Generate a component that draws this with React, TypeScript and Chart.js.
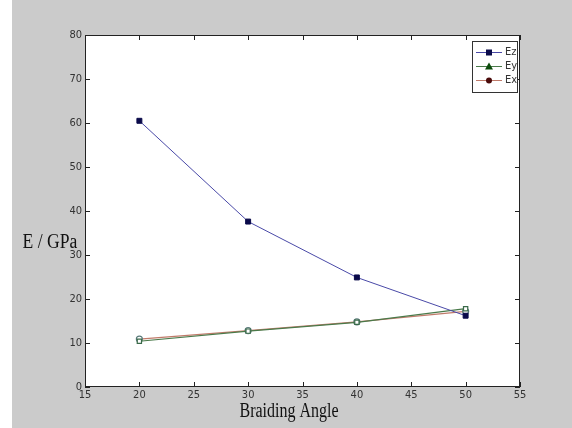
import React, { useEffect, useRef } from "react";
import { Chart, registerables } from "chart.js";

Chart.register(...registerables);

const angles = [20, 30, 40, 50];
const ezValues = [60.5, 37.6, 24.9, 16.2];
const eyValues = [10.4, 12.7, 14.7, 17.8];
const exValues = [10.9, 12.8, 14.8, 17.2];
const seriesLabels = ["Ez", "Ey", "Ex"];
const xTitle = "Braiding Angle";
const yTitle = "E / GPa";

const tickFont = "'Liberation Sans Narrow', 'DejaVu Sans Condensed', sans-serif";

const framePlugin = {
  id: "frame",
  beforeDraw(chart: any) {
    const { ctx, chartArea } = chart;
    ctx.save();
    ctx.fillStyle = "#ffffff";
    ctx.fillRect(0, 0, chart.width, chart.height);
    ctx.fillStyle = "#cbcbcb";
    ctx.fillRect(12, 0, chart.width - 12, chart.height);
    ctx.fillStyle = "#ffffff";
    ctx.fillRect(chartArea.left, chartArea.top, chartArea.right - chartArea.left, chartArea.bottom - chartArea.top);
    ctx.restore();
  },
  afterDraw(chart: any) {
    const { ctx, chartArea, scales } = chart;
    const { left, right, top, bottom } = chartArea;
    ctx.save();
    ctx.strokeStyle = "#222";
    ctx.lineWidth = 1;
    ctx.strokeRect(left + 0.5, top + 0.5, right - left - 1, bottom - top - 1);
    const tl = 5;
    ctx.beginPath();
    scales.x.ticks.forEach((t: any) => {
      const x = Math.round(scales.x.getPixelForValue(t.value)) + 0.5;
      ctx.moveTo(x, bottom);
      ctx.lineTo(x, bottom - tl);
      ctx.moveTo(x, top);
      ctx.lineTo(x, top + tl);
    });
    scales.y.ticks.forEach((t: any) => {
      const y = Math.round(scales.y.getPixelForValue(t.value)) + 0.5;
      ctx.moveTo(left, y);
      ctx.lineTo(left + tl, y);
      ctx.moveTo(right, y);
      ctx.lineTo(right - tl, y);
    });
    ctx.stroke();

    // axis titles
    ctx.fillStyle = "#111";
    ctx.font = "20px 'Liberation Serif', serif";
    ctx.textAlign = "center";
    ctx.textBaseline = "alphabetic";
    ctx.save();
    ctx.translate(289, 417);
    ctx.scale(0.8, 1);
    ctx.fillText(xTitle, 0, 0);
    ctx.restore();
    ctx.save();
    ctx.translate(50, 248);
    ctx.scale(0.88, 1);
    ctx.fillText(yTitle, 0, 0);
    ctx.restore();

    // legend
    const lx = 472, ly = 41, lw = 45, lh = 51;
    ctx.fillStyle = "#ffffff";
    ctx.fillRect(lx, ly, lw, lh);
    ctx.strokeStyle = "#333";
    ctx.strokeRect(lx + 0.5, ly + 0.5, lw, lh);
    const rows = [52, 66, 80];
    chart.data.datasets.forEach((ds: any, i: number) => {
      const y = rows[i] + 0.5;
      ctx.strokeStyle = ds.borderColor;
      ctx.lineWidth = 1;
      ctx.beginPath();
      ctx.moveTo(476, y);
      ctx.lineTo(502, y);
      ctx.stroke();
      ctx.fillStyle = ds.legendMarker;
      const mx = 489;
      ctx.beginPath();
      if (i === 0) {
        ctx.fillRect(mx - 3, y - 3, 6, 6);
      } else if (i === 1) {
        ctx.moveTo(mx, y - 4);
        ctx.lineTo(mx + 4, y + 3);
        ctx.lineTo(mx - 4, y + 3);
        ctx.closePath();
        ctx.fill();
      } else {
        ctx.arc(mx, y, 3, 0, Math.PI * 2);
        ctx.fill();
      }
      ctx.fillStyle = "#333";
      ctx.font = "11px " + tickFont;
      ctx.textAlign = "left";
      ctx.textBaseline = "middle";
      ctx.fillText(ds.label, 505, y);
    });
    ctx.restore();
  },
};

export default function App() {
  const ref = useRef<HTMLCanvasElement>(null);
  useEffect(() => {
    const canvas = ref.current!;
    const chart = new Chart(canvas, {
      type: "line",
      data: {
        datasets: [
          {
            label: seriesLabels[0],
            data: angles.map((a, i) => ({ x: a, y: ezValues[i] })),
            borderColor: "#4a4aa8",
            borderWidth: 1,
            pointStyle: "rect",
            pointRadius: 3.5,
            pointBackgroundColor: "#0a0a4a",
            pointBorderColor: "#0a0a4a",
            legendMarker: "#0a0a4a",
          } as any,
          {
            label: seriesLabels[1],
            data: angles.map((a, i) => ({ x: a, y: eyValues[i] })),
            borderColor: "#4a7a4a",
            borderWidth: 1.2,
            pointStyle: "rect",
            pointRadius: 3,
            pointBackgroundColor: "#ffffff",
            pointBorderColor: "#3a6a4a",
            legendMarker: "#0a4a0a",
          } as any,
          {
            label: seriesLabels[2],
            data: angles.map((a, i) => ({ x: a, y: exValues[i] })),
            borderColor: "#c07a6a",
            borderWidth: 1.2,
            pointStyle: "circle",
            pointRadius: 3,
            pointBackgroundColor: "#ffffff",
            pointBorderColor: "#5a7a7a",
            legendMarker: "#4a0a0a",
          } as any,
        ],
      },
      options: {
        responsive: false,
        animation: false,
        layout: { padding: { left: 0, top: 35, right: 52, bottom: 0 } },
        plugins: { legend: { display: false }, tooltip: { enabled: false } },
        scales: {
          x: {
            type: "linear",
            min: 15,
            max: 55,
            ticks: { stepSize: 5, color: "#333", font: { family: tickFont, size: 11 }, padding: 2, maxRotation: 0 },
            grid: { display: false, drawTicks: false },
            border: { display: false },
            afterFit: (s: any) => { s.height = 41; },
          },
          y: {
            min: 0,
            max: 80,
            ticks: { stepSize: 10, color: "#333", font: { family: tickFont, size: 11 }, padding: 3 },
            grid: { display: false, drawTicks: false },
            border: { display: false },
            afterFit: (s: any) => { s.width = 85; },
          },
        },
      },
      plugins: [framePlugin],
    });
    return () => chart.destroy();
  }, []);
  return (
    <div style={{ position: "absolute", left: 0, top: 0 }}>
      <canvas ref={ref} width={572} height={428} style={{ display: "block" }} />
    </div>
  );
}
